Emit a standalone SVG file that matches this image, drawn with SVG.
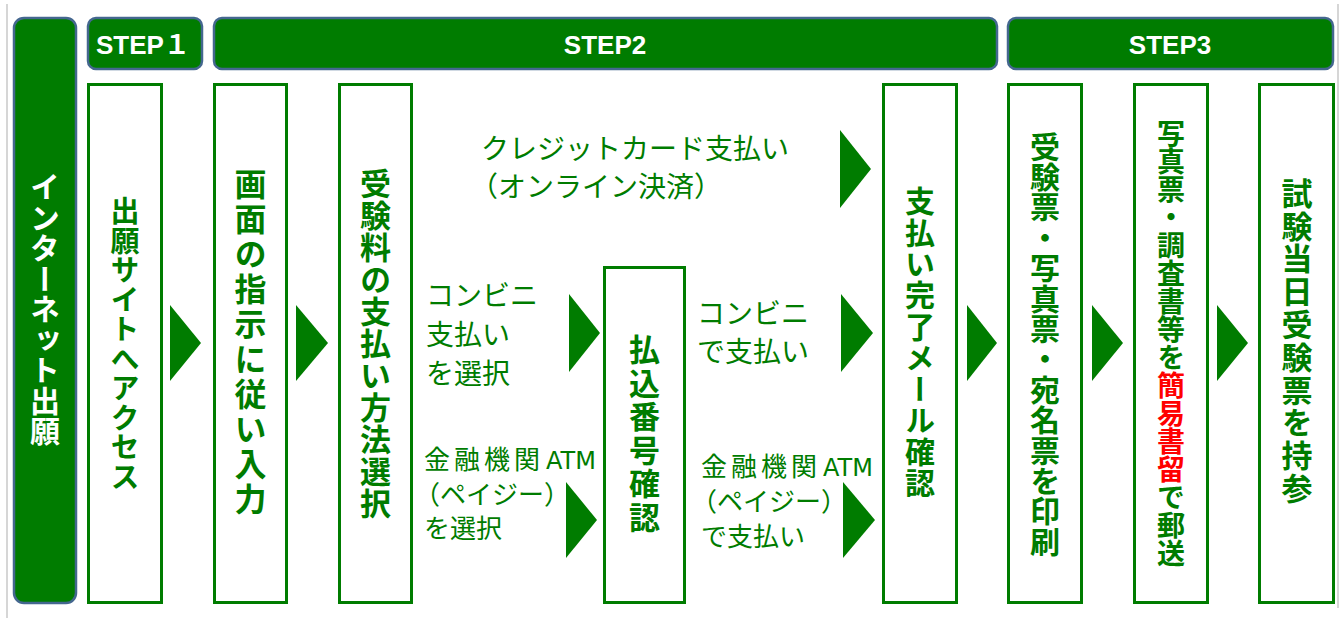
<svg xmlns="http://www.w3.org/2000/svg" width="1339" height="618" viewBox="0 0 1339 618">
<style>
.hdr{fill:#007C00;stroke:#44678F;stroke-width:2.5}
.col{fill:#fff;stroke:#007C00;stroke-width:3}
.arr{fill:#007C00}
.hdrt{font-family:"Liberation Sans","Noto Sans CJK JP",sans-serif;font-weight:bold;font-size:26px;fill:#fff;text-anchor:middle}
.vt{font-family:"Noto Sans CJK JP",sans-serif;font-weight:bold;fill:#007C00;writing-mode:vertical-rl;text-anchor:middle}
.ht{font-family:"Noto Sans CJK JP",sans-serif;font-size:28px;fill:#007C00}
.hs{font-family:"Noto Sans CJK JP",sans-serif;font-size:26px;fill:#007C00}
.kj{font-family:"Noto Sans CJK JP",sans-serif;font-size:26px;letter-spacing:4px;fill:#007C00}
.lat{font-family:"DejaVu Sans",sans-serif;font-size:24px;fill:#007C00}
</style>
<rect width="1339" height="618" fill="#fff"/>
<line x1="7" y1="4" x2="7" y2="618" stroke="#c8c8c8" stroke-width="1.5"/>
<line x1="1338" y1="4" x2="1338" y2="608" stroke="#c8c8c8" stroke-width="1.5"/>

<g id="internet">
<rect class="hdr" x="14" y="18" width="62" height="585" rx="10"/>
<text class="vt" x="45" y="309" style="font-size:30px;fill:#fff;letter-spacing:0.5px">インターネット出願</text>
</g>
<g id="step1">
<rect class="hdr" x="88" y="18" width="114" height="51" rx="8"/>
<text class="hdrt" x="143" y="54">STEP１</text>
</g>
<g id="step2">
<rect class="hdr" x="214" y="18" width="783" height="51" rx="8"/>
<text class="hdrt" x="605" y="54">STEP2</text>
</g>
<g id="step3">
<rect class="hdr" x="1008" y="18" width="325" height="51" rx="8"/>
<text class="hdrt" x="1170" y="54">STEP3</text>
</g>

<g id="access">
<rect class="col" x="88.5" y="84.5" width="73" height="518"/>
<text class="vt" x="125" y="344" style="font-size:29px;letter-spacing:0.5px">出願サイトへアクセス</text>
</g>
<g id="input">
<rect class="col" x="214.5" y="84.5" width="72" height="518"/>
<text class="vt" x="250.5" y="343" style="font-size:32px;letter-spacing:3px">画面の指示に従い入力</text>
</g>
<g id="method">
<rect class="col" x="339.5" y="84.5" width="72" height="518"/>
<text class="vt" x="375.5" y="344" style="font-size:31px;letter-spacing:1px">受験料の支払い方法選択</text>
</g>
<g id="credit">
<text class="ht" x="481" y="159">クレジットカード支払い</text>
<text class="ht" x="470" y="197">（オンライン決済）</text>
</g>
<g id="konbini-select">
<text class="ht" x="426" y="306">コンビニ</text>
<text class="ht" x="426" y="345">支払い</text>
<text class="ht" x="426" y="384">を選択</text>
</g>
<g id="atm-select">
<text class="kj" x="424" y="469">金融機関</text>
<text class="lat" x="546" y="469">ATM</text>
<text class="hs" x="414" y="504">（ペイジー）</text>
<text class="hs" x="424" y="538">を選択</text>
</g>
<g id="number">
<rect class="col" x="604.5" y="267.5" width="80" height="335"/>
<text class="vt" x="644.5" y="434.5" style="font-size:31px;letter-spacing:2.5px">払込番号確認</text>
</g>
<g id="konbini-pay">
<text class="ht" x="697" y="324">コンビニ</text>
<text class="ht" x="697" y="362">で支払い</text>
</g>
<g id="atm-pay">
<text class="kj" x="701" y="476">金融機関</text>
<text class="lat" x="823" y="476">ATM</text>
<text class="hs" x="691" y="511">（ペイジー）</text>
<text class="hs" x="701" y="546">で支払い</text>
</g>
<g id="complete">
<rect class="col" x="883.5" y="84.5" width="73" height="518"/>
<text class="vt" x="920" y="342.5" style="font-size:30px;letter-spacing:1.3px">支払い完了メール確認</text>
</g>
<g id="print">
<rect class="col" x="1008.5" y="84.5" width="73" height="518"/>
<text class="vt" x="1045" y="344" style="font-size:30px;letter-spacing:0.4px">受験票・写真票・宛名票を印刷</text>
</g>
<g id="mail">
<rect class="col" x="1134.5" y="84.5" width="73" height="518"/>
<text class="vt" x="1171" y="343.5" style="font-size:28px">写真票・調査書等を<tspan fill="#FF0000">簡易書留</tspan>で郵送</text>
</g>
<g id="bring">
<rect class="col" x="1259.5" y="84.5" width="74" height="518"/>
<text class="vt" x="1297" y="341.5" style="font-size:31px;letter-spacing:1.8px">試験当日受験票を持参</text>
</g>

<g id="connectors">
<polygon class="arr" points="170,305 201,343 170,381"/>
<polygon class="arr" points="296,305 328,343 296,381"/>
<polygon class="arr" points="840,130 871,169 840,208"/>
<polygon class="arr" points="569,294 600,333 569,372"/>
<polygon class="arr" points="841,294 873,333 841,372"/>
<polygon class="arr" points="566,482 597,520 566,558"/>
<polygon class="arr" points="843,482 875,520 843,558"/>
<polygon class="arr" points="967,305 997,343 967,381"/>
<polygon class="arr" points="1092,305 1123,343 1092,381"/>
<polygon class="arr" points="1217,305 1248,343 1217,381"/>
</g>
</svg>
